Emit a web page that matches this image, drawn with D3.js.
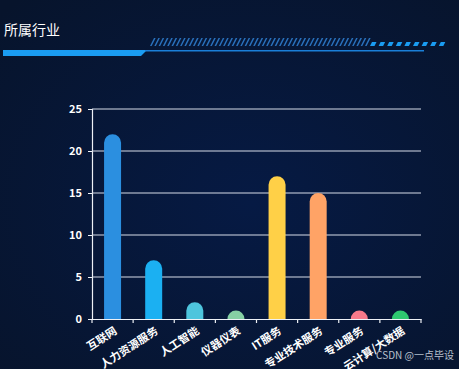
<!DOCTYPE html>
<html><head><meta charset="utf-8">
<script src="https://cdn.jsdelivr.net/npm/d3@7/dist/d3.min.js"></script>
<style>
html,body{margin:0;padding:0;background:#061537;}
svg{display:block;}
text{font-family:"Noto Sans CJK SC","Noto Sans",sans-serif;}
</style></head>
<body>
<svg id="chart" width="459" height="369"></svg>
<script>
const categories = ["互联网","人力资源服务","人工智能","仪器仪表","IT服务","专业技术服务","专业服务","云计算/大数据"];
const values = [22, 7, 2, 1, 17, 15, 1, 1];
const barColors = ["#2b8fe0","#1bb0f2","#4ec5dd","#86d0a4","#ffd047","#ffa366","#f7798a","#2ec870"];
const yTicks = [0, 5, 10, 15, 20, 25];
const title = "所属行业";
const watermark = "CSDN @一点毕设";

const W = 459, H = 369;
const svg = d3.select("#chart");
const defs = svg.append("defs");
const bg = defs.append("radialGradient").attr("id","bg").attr("cx","55%").attr("cy","55%").attr("r","75%");
bg.append("stop").attr("offset","0%").attr("stop-color","#061a44");
bg.append("stop").attr("offset","100%").attr("stop-color","#07142c");
svg.append("rect").attr("width",W).attr("height",H).attr("fill","url(#bg)");

// header
svg.append("text").attr("x",4).attr("y",35).attr("fill","#ffffff").attr("font-size",14).text(title);
svg.append("path").attr("d","M3,50 L147,50 L141,56 L3,56 Z").attr("fill","#1a9cf2");
svg.append("rect").attr("x",145).attr("y",50).attr("width",279).attr("height",1.5).attr("fill","#1a7fd8");
const hatch = svg.append("g").attr("fill","#2a72bd");
d3.range(150, 368, 4.3).forEach(x => {
  hatch.append("path").attr("d",`M${x},46 L${x+1.6},46 L${x+5.6},38 L${x+4},38 Z`);
});
const dash = svg.append("g").attr("fill","#1a9cf2");
d3.range(370, 440, 8.6).forEach(x => {
  dash.append("path").attr("d",`M${x},46 L${x+4.5},46 L${x+6.5},42 L${x+2},42 Z`);
});

// chart
const m = {left: 92, right: 421, top: 109, bottom: 319};
const x = d3.scaleBand().domain(categories).range([m.left, m.right]).paddingInner(0).paddingOuter(0);
const y = d3.scaleLinear().domain([0, 25]).range([m.bottom, m.top]);

const yAxis = svg.append("g").attr("transform",`translate(${m.left},0)`)
  .call(d3.axisLeft(y).tickValues(yTicks).tickSize(4).tickPadding(6));
yAxis.select(".domain").attr("stroke","#eef1f6").attr("stroke-width",1.2);
yAxis.selectAll(".tick line").attr("stroke","#eef1f6");
yAxis.selectAll(".tick text").attr("fill","#ffffff").attr("font-size",11).attr("font-weight","bold")
  .attr("font-family","'Noto Sans',sans-serif");

// grid
svg.append("g").selectAll("line").data(yTicks.filter(d => d > 0)).join("line")
  .attr("x1", m.left).attr("x2", m.right)
  .attr("y1", d => y(d)).attr("y2", d => y(d))
  .attr("stroke","#d6dce8").attr("stroke-width",1.2);

// bars
const bw = 17, r = bw / 2;
svg.append("g").selectAll("path").data(values).join("path")
  .attr("fill", (d,i) => barColors[i])
  .attr("d", (d,i) => {
    const cx = x(categories[i]) + x.bandwidth()/2;
    const x0 = cx - r, x1 = cx + r;
    const top = y(d), base = y(0);
    const h = base - top;
    if (h >= r) {
      return `M${x0},${base} L${x0},${top + r} A${r},${r} 0 0 1 ${x1},${top + r} L${x1},${base} Z`;
    }
    return `M${x0},${base} A${r},${h} 0 0 1 ${x1},${base} Z`;
  });

const xAxis = svg.append("g").attr("transform",`translate(0,${m.bottom})`)
  .call(d3.axisBottom(x).tickSize(0).tickPadding(0));
xAxis.select(".domain").attr("stroke","#eef1f6").attr("stroke-width",1.2);
svg.append("g").selectAll("line").data(d3.range(categories.length + 1)).join("line")
  .attr("x1", i => m.left + i * x.step()).attr("x2", i => m.left + i * x.step())
  .attr("y1", m.bottom).attr("y2", m.bottom + 4)
  .attr("stroke","#eef1f6").attr("stroke-width",1.2);
xAxis.selectAll(".tick text")
  .attr("fill","#ffffff").attr("font-size",11).attr("font-weight","bold")
  .attr("text-anchor","end").attr("dy","0.7em").attr("y",4).attr("x",0)
  .attr("transform","rotate(-33, 6, 4)");

svg.append("text").attr("x",454).attr("y",359).attr("text-anchor","end")
  .attr("fill","#b8c0cc").attr("font-size",10).text(watermark);
</script>
</body></html>
